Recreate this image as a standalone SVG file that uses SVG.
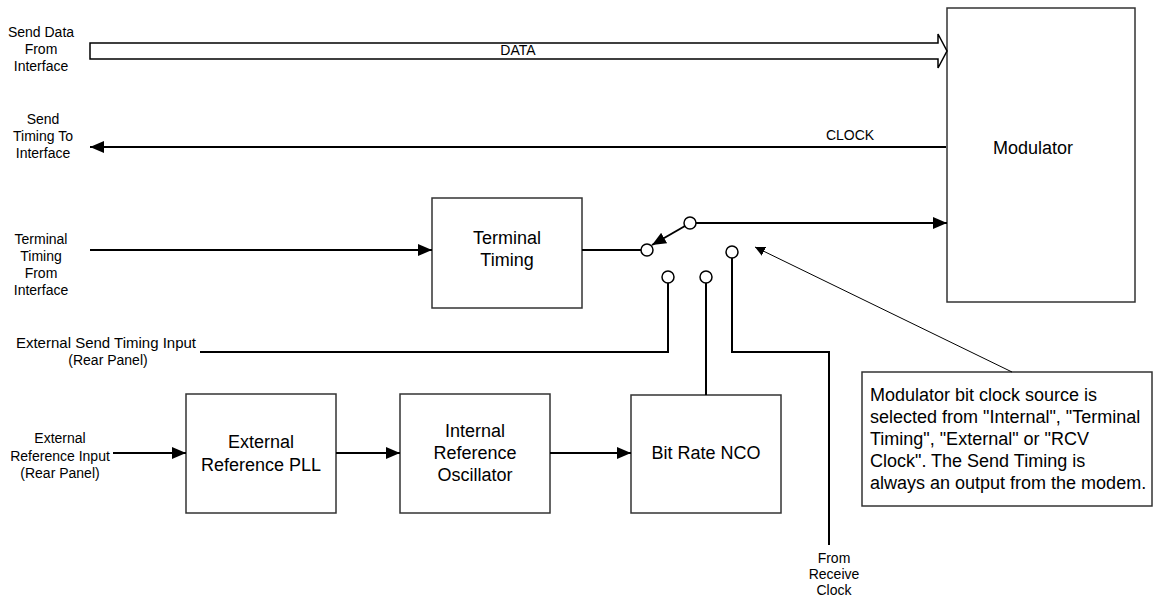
<svg xmlns="http://www.w3.org/2000/svg" width="1156" height="605" viewBox="0 0 1156 605">
<style>
text{font-family:"Liberation Sans",Arial,sans-serif;fill:#000}
.lbl{font-size:14px;text-anchor:middle}
.big{font-size:18px;text-anchor:middle}
.box{fill:#fff;stroke:#333;stroke-width:1.5}
.ln{fill:none;stroke:#000;stroke-width:2}
.thin{fill:none;stroke:#000;stroke-width:1}
.sw{fill:#fff;stroke:#000;stroke-width:1.5}
</style>
<defs>
<marker id="ah" markerWidth="14" markerHeight="12" refX="14" refY="6" orient="auto" markerUnits="userSpaceOnUse">
<path d="M0,0 L14,6 L0,12 Z" fill="#000"/>
</marker>
<marker id="ahs" markerWidth="10" markerHeight="10" refX="10" refY="5" orient="auto" markerUnits="userSpaceOnUse">
<path d="M0,0 L10,5 L0,10 Z" fill="#000"/>
</marker>
</defs>
<g id="labels">
<text class="lbl" x="41" y="37">Send Data</text>
<text class="lbl" x="41" y="54">From</text>
<text class="lbl" x="41" y="71">Interface</text>
<text class="lbl" x="43" y="124">Send</text>
<text class="lbl" x="43" y="141">Timing To</text>
<text class="lbl" x="43" y="158">Interface</text>
<text class="lbl" x="41" y="244">Terminal</text>
<text class="lbl" x="41" y="261">Timing</text>
<text class="lbl" x="41" y="278">From</text>
<text class="lbl" x="41" y="295">Interface</text>
<text class="lbl" x="106" y="348" style="font-size:15px">External Send Timing Input</text>
<text class="lbl" x="108" y="365">(Rear Panel)</text>
<text class="lbl" x="60" y="443">External</text>
<text class="lbl" x="60" y="461">Reference Input</text>
<text class="lbl" x="60" y="478">(Rear Panel)</text>
<text class="lbl" x="834" y="563">From</text>
<text class="lbl" x="834" y="579">Receive</text>
<text class="lbl" x="834" y="595">Clock</text>
</g>
<g id="modulator">
<rect class="box" x="947" y="8" width="188" height="294"/>
<text class="big" x="1033" y="154">Modulator</text>
</g>
<g id="terminal-timing">
<rect class="box" x="432" y="198" width="150" height="110"/>
<text class="big" x="507" y="244">Terminal</text>
<text class="big" x="507" y="266">Timing</text>
</g>
<g id="ext-ref-pll">
<rect class="box" x="186" y="394" width="150" height="119"/>
<text class="big" x="261" y="448">External</text>
<text class="big" x="261" y="471">Reference PLL</text>
</g>
<g id="int-ref-osc">
<rect class="box" x="400" y="394" width="150" height="119"/>
<text class="big" x="475" y="437">Internal</text>
<text class="big" x="475" y="459">Reference</text>
<text class="big" x="475" y="481">Oscillator</text>
</g>
<g id="bit-rate-nco">
<rect class="box" x="631" y="395" width="150" height="118"/>
<text class="big" x="706" y="459">Bit Rate NCO</text>
</g>
<g id="note">
<rect class="box" x="862" y="372" width="290" height="134"/>
<text font-size="18" x="870" y="401">Modulator bit clock source is</text>
<text font-size="18" x="870" y="423">selected from "Internal", "Terminal</text>
<text font-size="18" x="870" y="445">Timing", "External" or "RCV</text>
<text font-size="18" x="870" y="467">Clock". The Send Timing is</text>
<text font-size="18" x="870" y="489">always an output from the modem.</text>
</g>
<g id="connectors">
<path d="M90,43 L938,43 L938,34 L947,51 L938,68 L938,59 L90,59 Z" fill="#fff" stroke="#000" stroke-width="1.5" stroke-linejoin="miter"/>
<text class="lbl" x="518" y="55">DATA</text>
<line class="ln" x1="946" y1="147" x2="90" y2="147" marker-end="url(#ah)"/>
<text class="lbl" x="850" y="140">CLOCK</text>
<line class="ln" x1="90" y1="250" x2="432" y2="250" marker-end="url(#ah)"/>
<line class="ln" x1="582" y1="250" x2="641" y2="250"/>
<line class="ln" x1="696" y1="223" x2="947" y2="223" marker-end="url(#ah)"/>
<line class="ln" x1="685" y1="226" x2="652" y2="245" marker-end="url(#ah)"/>
<polyline class="ln" points="200,352 668,352 668,283"/>
<line class="ln" x1="706" y1="283" x2="706" y2="395"/>
<polyline class="ln" points="732,258 732,352 829,352 829,545"/>
<line class="ln" x1="113" y1="453" x2="186" y2="453" marker-end="url(#ah)"/>
<line class="ln" x1="336" y1="453" x2="400" y2="453" marker-end="url(#ah)"/>
<line class="ln" x1="550" y1="453" x2="631" y2="453" marker-end="url(#ah)"/>
<line class="thin" x1="1012" y1="372" x2="755" y2="247" marker-end="url(#ahs)"/>
<circle class="sw" cx="647" cy="250" r="6"/>
<circle class="sw" cx="690" cy="223" r="6"/>
<circle class="sw" cx="668" cy="277" r="6"/>
<circle class="sw" cx="706" cy="277" r="6"/>
<circle class="sw" cx="732" cy="252" r="6"/>
</g>
</svg>
